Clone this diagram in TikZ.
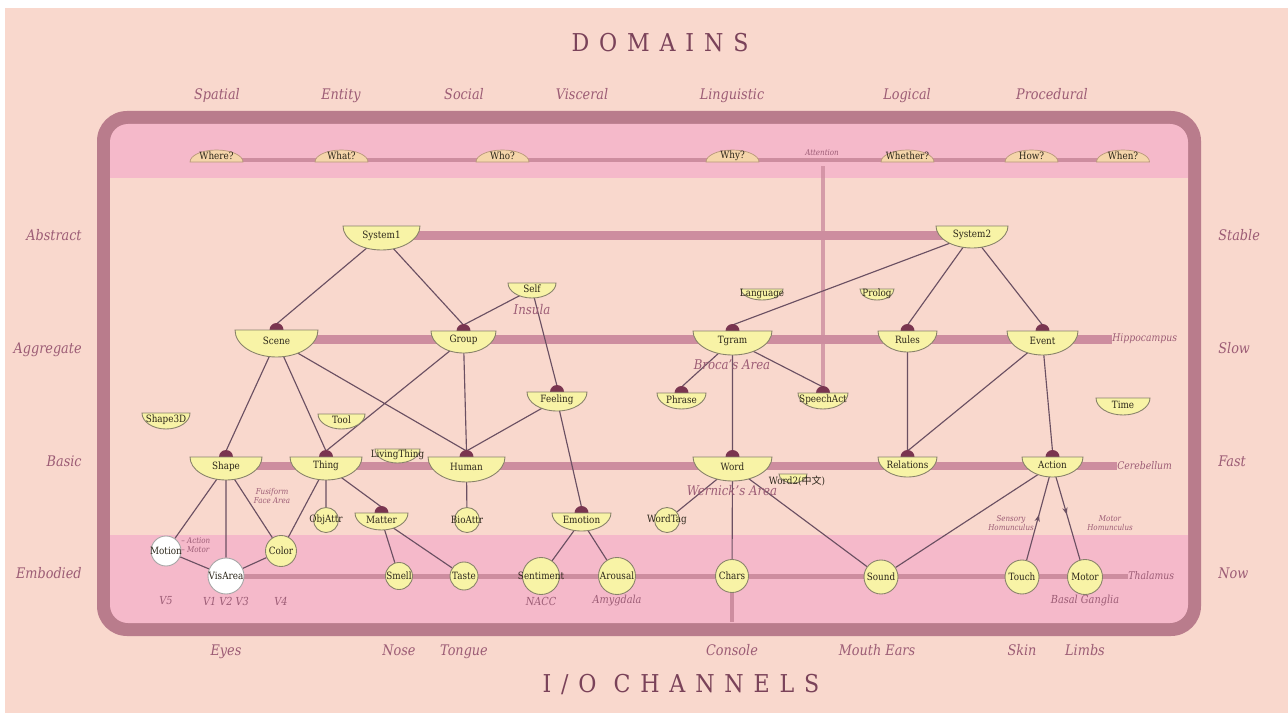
\documentclass[tikz,border=0pt]{standalone}
\usepackage{fontspec}
\setmainfont{DejaVu Serif}[FakeStretch=0.88]
\newfontfamily\cjk{Noto Sans CJK SC}
\newfontfamily\headfont{DejaVu Serif}[LetterSpace=40,FakeStretch=0.9]
\usetikzlibrary{arrows.meta,decorations.markings}

\definecolor{salmonc}{HTML}{F9D8CD}
\definecolor{bandc}{HTML}{F5B9CA}
\definecolor{framec}{HTML}{B97C8C}
\definecolor{barc}{HTML}{CD8D9F}
\definecolor{nodefill}{HTML}{F8F3A6}
\definecolor{nodeline}{HTML}{88826A}
\definecolor{domefill}{HTML}{F5D5AA}
\definecolor{domeline}{HTML}{B8987A}
\definecolor{knobc}{HTML}{7A3550}
\definecolor{linkc}{HTML}{6B5062}
\definecolor{mauve}{HTML}{9C5C75}
\definecolor{titlec}{HTML}{7A4259}
\definecolor{ink}{HTML}{2B2519}

\pgfdeclarelayer{back}
\pgfdeclarelayer{bars}
\pgfdeclarelayer{links}
\pgfsetlayers{back,bars,links,main}

% bowl: name, x, top y, half width, depth, text
\newcommand{\bowl}[6]{%
  \filldraw[bowlshape] (#2+#4,#3) arc[start angle=0,end angle=180,x radius=#4,y radius=#5] -- cycle;
  \node[lbl] (#1) at (#2,#3+0.38*#5+0.5) {#6};}
% bowl with a knob on top
\newcommand{\kbowl}[6]{%
  \fill[knobc] (#2,#3) circle[radius=7];
  \coordinate (#1-k) at (#2,#3-6);
  \bowl{#1}{#2}{#3}{#4}{#5}{#6}}
% dome of the top band: name, x, text
\newcommand{\dome}[3]{%
  \filldraw[domeshape] (#2-26.5,162) arc[start angle=180,end angle=360,x radius=26.5,y radius=12] -- cycle;
  \coordinate (#1-b) at (#2,160);
  \node[lbl] (#1) at (#2,156) {#3};}

\begin{document}
\begin{tikzpicture}
  [x=0.02cm, y=-0.02cm,
   lbl/.style={font=\fontsize{5.7}{6.5}\selectfont, text=ink, inner sep=0pt},
   every label/.style={lbl},
   bowlshape/.style={fill=nodefill, draw=nodeline, line width=0.5pt},
   domeshape/.style={fill=domefill, draw=domeline, line width=0.4pt},
   circ/.style={circle, fill=nodefill, draw=nodeline, line width=0.5pt, inner sep=0pt, minimum size=#1*0.02cm},
   wcirc/.style={circ=#1, fill=white, draw=gray!70},
   link/.style={draw=linkc, line width=0.65pt},
   bar/.style={draw=barc, line width=#1*0.02cm},
   side/.style={font=\fontsize{8.3}{10}\selectfont\itshape, text=mauve, inner sep=0pt},
   area/.style={font=\fontsize{7.6}{9}\selectfont\itshape, text=mauve, inner sep=0pt},
   note/.style={font=\fontsize{6.3}{7}\selectfont\itshape, text=mauve, inner sep=0pt},
   tiny/.style={font=\fontsize{4.6}{5}\selectfont\itshape, text=mauve, inner sep=0pt, align=center},
   midarrow/.style={postaction={decorate}, decoration={markings, mark=at position #1 with {\arrow{Stealth[length=4pt,width=3pt]}}}}]

  \useasboundingbox (0,0) rectangle (1288,713);

  % page, frame and bands
  \begin{pgfonlayer}{back}
    \fill[white] (0,0) rectangle (1288,713);
    \fill[salmonc] (5,8) rectangle (1288,713);
    \fill[framec, rounded corners=0.6cm] (97,111) rectangle (1201,636);
    \fill[bandc, rounded corners=0.36cm] (110,124) rectangle (1188,623);
    \fill[salmonc] (110,178) rectangle (1188,535);
  \end{pgfonlayer}

  % titles
  \node[font=\headfont\fontsize{14}{16}\selectfont, text=titlec] (domains) at (660,43) {DOMAINS};
  \node[font=\headfont\fontsize{14}{16}\selectfont, text=titlec] (channels) at (681,685) {I/O CHANNELS};
  \foreach \x/\t in {217/Spatial, 341/Entity, 464/Social, 582/Visceral, 732/Linguistic, 907/Logical, 1052/Procedural}
    \node[side, anchor=base] (\t) at (\x,99.5) {\t};
  \foreach \x/\t in {226/Eyes, 399/Nose, 464/Tongue, 732/Console, 877/Mouth Ears, 1022/Skin, 1085/Limbs}
    \node[side, anchor=base] (\t) at (\x,655.5) {\t};
  \foreach \y/\t in {240.5/Abstract, 353/Aggregate, 466.5/Basic, 578.5/Embodied}
    \node[side, anchor=base east] (\t) at (82,\y) {\t};
  \foreach \y/\t in {240.5/Stable, 353/Slow, 466.5/Fast, 578.5/Now}
    \node[side, anchor=base west] (\t) at (1218,\y) {\t};

  % question domes
  \dome{where}{216.5}{Where?}
  \dome{what}{341.5}{What?}
  \dome{who}{502.5}{Who?}
  \dome{why}{732.5}{Why?}
  \dome{whether}{907.5}{Whether?}
  \dome{how}{1031.5}{How?}
  \dome{when}{1123}{When?}
  \node[tiny] (attention) at (822,153) {Attention};
  \coordinate (attn) at (823,166);

  % abstract
  \bowl{system1}{381.5}{226}{38.5}{24}{System1}
  \bowl{system2}{972}{226}{36}{22}{System2}
  \bowl{self}{532}{283}{24}{15}{Self}
  \bowl{language}{762}{289}{21}{11}{Language}
  \bowl{prolog}{877}{289}{17}{11}{Prolog}

  % aggregate
  \kbowl{scene}{276.5}{330}{41.5}{27}{Scene}
  \kbowl{group}{463.5}{331}{32.5}{22}{Group}
  \kbowl{tgram}{732.5}{331}{39.5}{24}{Tgram}
  \kbowl{rules}{907.5}{331}{29.5}{21}{Rules}
  \kbowl{event}{1042.5}{331}{35.5}{24}{Event}
  \kbowl{phrase}{681.5}{393}{24.5}{16}{Phrase}
  \kbowl{speechact}{823}{393}{25}{16}{SpeechAct}
  \kbowl{feeling}{557}{392}{30}{19}{Feeling}
  \bowl{shape3d}{166}{413}{24}{16}{Shape3D}
  \bowl{tool}{341.5}{414}{23.5}{15}{Tool}
  \bowl{time}{1123}{398}{27}{17}{Time}

  % basic
  \bowl{livingthing}{397.5}{449}{22.5}{14}{LivingThing}
  \kbowl{shape}{226}{457}{36}{23}{Shape}
  \kbowl{thing}{326}{457}{36}{23}{Thing}
  \kbowl{human}{466.5}{457}{38.5}{25}{Human}
  \kbowl{word}{732.5}{457}{39.5}{24}{Word}
  \kbowl{relations}{907.5}{457}{29.5}{20}{Relations}
  \kbowl{action}{1052.5}{457}{30.5}{20}{Action}
  \filldraw[bowlshape] (807,474) arc[start angle=0,end angle=180,x radius=14,y radius=9] -- cycle;
  \node[lbl] (wordii) at (797,481) {Word2({\cjk 中文})};
  \kbowl{matter}{381.5}{513}{26.5}{17}{Matter}
  \kbowl{emotion}{581.5}{513}{29.5}{18}{Emotion}

  % attributes and senses
  \node[circ=25, label=center:ObjAttr] (objattr) at (326,520) {};
  \node[circ=25, label=center:BioAttr] (bioattr) at (467,520) {};
  \node[circ=25, label=center:WordTag] (wordtag) at (667,520) {};
  \node[wcirc=30, label=center:Motion] (motion) at (166,551) {};
  \node[wcirc=36, label=center:VisArea] (visarea) at (226,576) {};
  \node[circ=31, label=center:Color] (color) at (281,551) {};
  \node[circ=27, label=center:Smell] (smell) at (399,576) {};
  \node[circ=28, label=center:Taste] (taste) at (464,576) {};
  \node[circ=37, label=center:Sentiment] (sentiment) at (541,576) {};
  \node[circ=37, label=center:Arousal] (arousal) at (617,576) {};
  \node[circ=33, label=center:Chars] (chars) at (732,576) {};
  \node[circ=34, label=center:Sound] (sound) at (881,577) {};
  \node[circ=34, label=center:Touch] (touch) at (1022,577) {};
  \node[circ=35, label=center:Motor] (motor) at (1085,577) {};
  \coordinate (consoleend) at (732,622);

  % brain areas
  \node[area] (insula) at (532,310) {Insula};
  \node[area] (broca) at (732,365) {Broca's Area};
  \node[area] (wernicke) at (732,491) {Wernick's Area};
  \node[note, anchor=west, font=\fontsize{6}{7}\selectfont\itshape] (hippocampus) at (1112,339) {Hippocampus};
  \node[note, anchor=west, font=\fontsize{6}{7}\selectfont\itshape] (cerebellum) at (1117,465.5) {Cerebellum};
  \node[note, anchor=west, font=\fontsize{6}{7}\selectfont\itshape] (thalamus) at (1128,576) {Thalamus};
  \node[tiny] (fusiform) at (272,496) {Fusiform\\Face Area};
  \node[tiny, align=left, anchor=west] (actmotor) at (181,545) {– Action\\– Motor};
  \node[tiny] (sensoryh) at (1011,523) {Sensory\\Homunculus};
  \node[tiny] (motorh) at (1110,523) {Motor\\Homunculus};
  \foreach \x/\t in {166/V5, 226/V1 V2 V3, 281/V4, 541/NACC, 617/Amygdala, 1085/Basal Ganglia}
    \node[note] (\t) at (\x,601) {\t};

  % level bars
  \begin{pgfonlayer}{bars}
    \draw[bar=4] (where-b) -- (when-b);
    \draw[bar=9] (system1) -- (system1 -| system2);
    \draw[bar=9] (scene |- hippocampus.west) -- (hippocampus.west);
    \draw[bar=8] (shape |- cerebellum.west) -- (cerebellum.west);
    \draw[bar=5] (visarea) -- (thalamus.west);
    \draw[bar=4] (chars) -- (consoleend);
    \draw[bar=4, draw opacity=0.8] (attn) -- (speechact-k);
  \end{pgfonlayer}

  % links
  \begin{pgfonlayer}{links}
    \draw[link] (system1) -- (scene-k)  (system1) -- (group-k)
                (system2) -- (tgram-k)  (system2) -- (rules-k)  (system2) -- (event-k)
                (self) -- (group-k)  (self) -- (feeling-k)
                (scene) -- (shape-k)  (scene) -- (thing-k)  (scene) -- (human-k)
                (group) -- (thing-k)  (group) -- (human-k)
                (feeling) -- (human-k)  (feeling) -- (emotion-k)
                (tgram) -- (phrase-k)  (tgram) -- (word-k)  (tgram) -- (speechact-k)
                (rules) -- (relations-k)  (event) -- (relations-k)  (event) -- (action-k)
                (shape) -- (motion)  (shape) -- (visarea)  (shape) -- (color)
                (thing) -- (color)  (thing) -- (objattr)  (thing) -- (matter-k)
                (human) -- (bioattr)
                (matter) -- (smell)  (matter) -- (taste)
                (emotion) -- (sentiment)  (emotion) -- (arousal)
                (word) -- (wordtag)  (word) -- (chars)  (word) -- (sound)
                (action) -- (sound)
                (motion) -- (visarea)  (visarea) -- (color);
    \draw[link, midarrow=0.5] (touch) -- (action);
    \draw[link, midarrow=0.5] (action) -- (motor);
  \end{pgfonlayer}
\end{tikzpicture}
\end{document}
